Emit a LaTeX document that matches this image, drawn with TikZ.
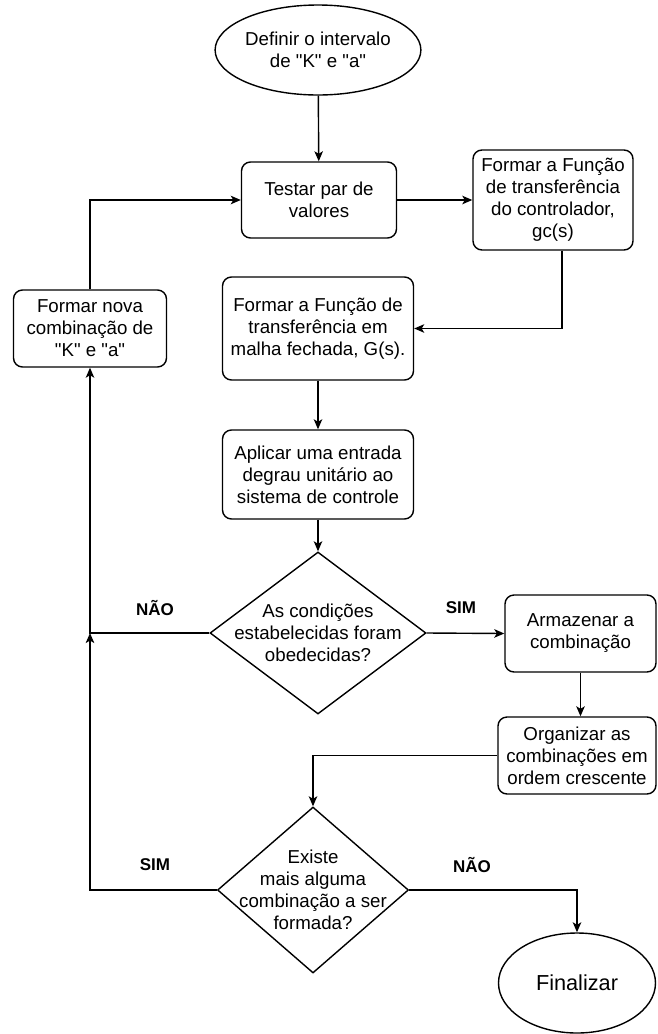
\documentclass[tikz,border=0pt]{standalone}
\usepackage{fontspec}
\setmainfont{Liberation Sans}[Ligatures=TeXOff]
\usetikzlibrary{shapes.geometric,arrows.meta}
\begin{document}
\begin{tikzpicture}[x=1pt,y=-1pt,
  every node/.style={font=\fontsize{18.7}{22}\selectfont, align=center, inner sep=0pt},
  box/.style={draw, line width=1.4pt, rounded corners=9pt},
  term/.style={draw, line width=1.4pt, ellipse},
  dec/.style={draw, line width=1.4pt, diamond},
  lbl/.style={font=\fontsize{17}{20}\selectfont\bfseries},
  arr/.style={line width=1.4pt, -{Stealth[length=10pt,width=8.5pt,inset=2.5pt]}}]
\useasboundingbox (0,0) rectangle (657,1034);

% main column
\node[term, minimum width=170pt, minimum height=90pt] (start) at (318,50)
  {Definir o intervalo\\de "K" e "a"};
\node[box, minimum width=155pt, minimum height=76pt] (test) at (319,200)
  {Testar par de\\valores};
\node[box, minimum width=160pt, minimum height=100pt] (ctrl) at (553,200)
  {Formar a Função\\de transferência\\do controlador,\\gc(s)};
\node[box, minimum width=191pt, minimum height=103pt] (gs) at (318,328.5)
  {Formar a Função de\\transferência em\\malha fechada, G(s).};
\node[box, minimum width=153pt, minimum height=77pt] (nova) at (90,328.5)
  {Formar nova\\combinação de\\"K" e "a"};
\node[box, minimum width=191pt, minimum height=89pt] (aplic) at (318,474.5)
  {Aplicar uma entrada\\degrau unitário ao\\sistema de controle};

% first decision
\node[dec, minimum width=216pt, minimum height=162pt] (d1) at (318,633) {};
\node at (d1) {As condições\\estabelecidas foram\\obedecidas?};
\node[box, minimum width=151pt, minimum height=77pt] (arm) at (580.5,633.5)
  {Armazenar a\\combinação};
\node[box, minimum width=158pt, minimum height=77pt] (org) at (577,755.5)
  {Organizar as\\combinações em\\ordem crescente};

% second decision
\node[dec, minimum width=191pt, minimum height=166pt] (d2) at (313,890) {};
\node at (d2) {Existe\\mais alguma\\combinação a ser\\formada?};
\node[term, minimum width=157pt, minimum height=100pt, font=\fontsize{21.7}{26}\selectfont] (fin) at (577,983)
  {Finalizar};

% branch labels
\node[lbl] (n1) at (155,608) {NÃO};
\node[lbl] (s1) at (461,608) {SIM};
\node[lbl] (s2) at (155,865) {SIM};
\node[lbl] (n2) at (472,865) {NÃO};

\coordinate (j) at (nova.south |- d1.west);

% connectors
\draw[arr] (start) -- (test);
\draw[arr] (test) -- (ctrl);
\draw[arr] ([xshift=9pt]ctrl.south) |- (gs.east);
\draw[arr] (gs) -- (aplic);
\draw[arr] (aplic) -- (d1);
\draw[arr] (d1.east) -- (arm.west);
\draw[arr] (d1.west) -| (nova.south);
\draw[arr] (nova.north) |- (test.west);
\draw[arr] (arm.south) -- (arm.south |- org.north);
\draw[arr] (org.west) -| (d2.north);
\draw[arr] (d2.east) -| (fin.north);
\draw[arr] (d2.west) -| (j);
\end{tikzpicture}
\end{document}
